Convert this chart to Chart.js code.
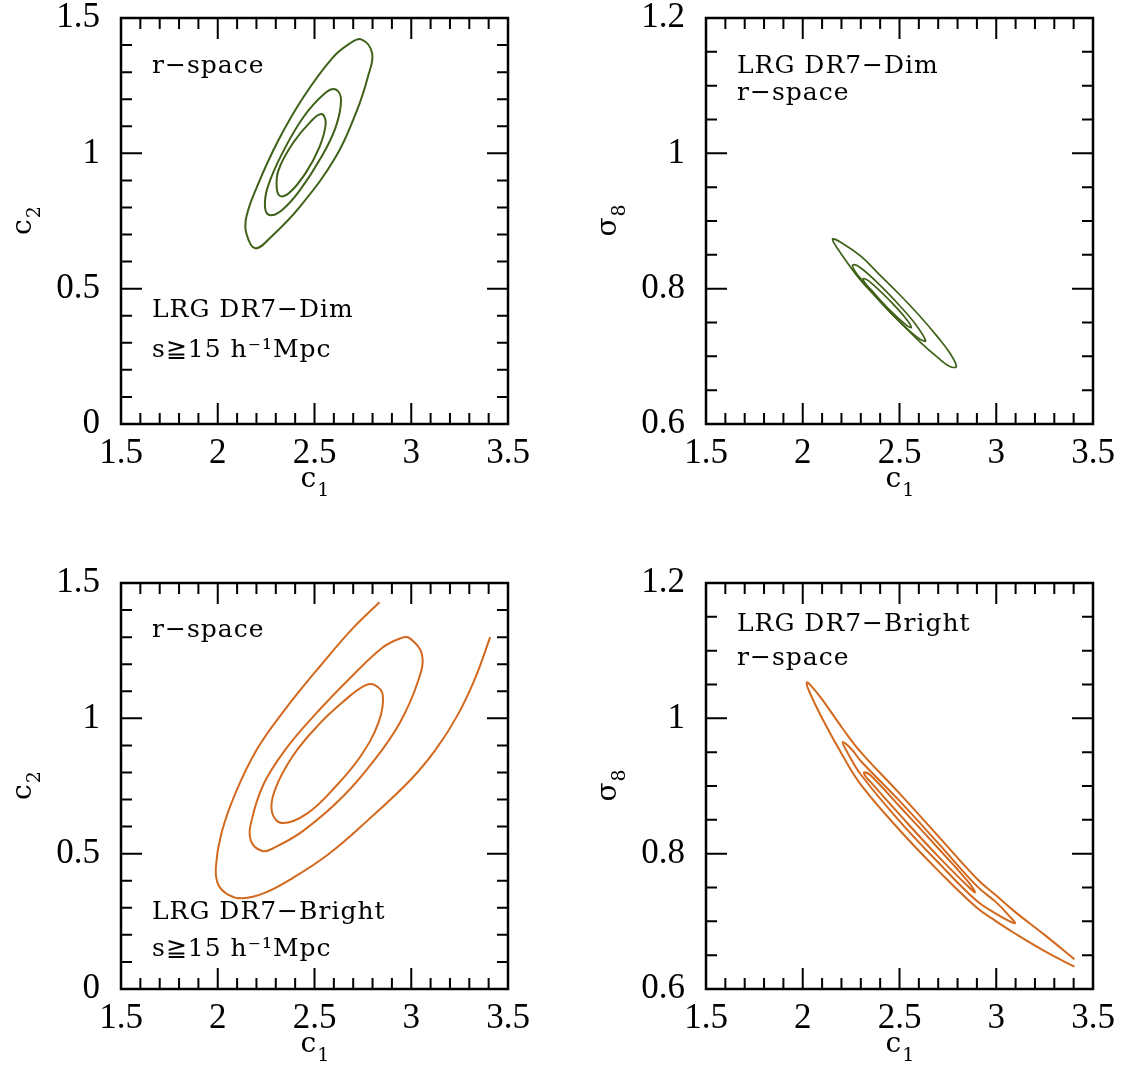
<!DOCTYPE html>
<html>
<head>
<meta charset="utf-8">
<title>LRG DR7 contours</title>
<script src="https://cdn.jsdelivr.net/npm/chart.js@4.4.1/dist/chart.umd.min.js"></script>
<style>
  body { margin: 0; background: #fff; width: 1121px; height: 1071px; position: relative; overflow: hidden; }
  .panel { position: absolute; width: 536px; height: 504px; }
</style>
</head>
<body>
<div class="panel" style="left:0;top:0"><canvas id="dimC2"></canvas></div>
<div class="panel" style="left:585px;top:0"><canvas id="dimS8"></canvas></div>
<div class="panel" style="left:0;top:565px"><canvas id="brightC2"></canvas></div>
<div class="panel" style="left:585px;top:565px"><canvas id="brightS8"></canvas></div>
<script>
// axis ticks
const c1Ticks = [1.5, 2, 2.5, 3, 3.5];
const c2Ticks = [0, 0.5, 1, 1.5];
const s8Ticks = [0.6, 0.8, 1.0, 1.2];

// DR7-Dim, c1 vs c2 (closed contours)
const dimC2Outer = [[2.610,0.987],[2.425,0.803],[2.277,0.692],[2.194,0.649],[2.148,0.704],[2.148,0.766],[2.203,0.877],[2.314,1.049],[2.444,1.209],[2.591,1.351],[2.683,1.406],[2.742,1.421],[2.798,1.369],[2.776,1.283],[2.720,1.160]];
const dimC2Mid = [[2.536,0.987],[2.425,0.864],[2.333,0.791],[2.268,0.772],[2.244,0.803],[2.259,0.877],[2.333,1.000],[2.444,1.135],[2.554,1.222],[2.610,1.236],[2.637,1.197],[2.610,1.098]];
const dimC2Inner = [[2.453,0.926],[2.370,0.854],[2.324,0.842],[2.305,0.871],[2.314,0.938],[2.388,1.037],[2.480,1.117],[2.536,1.145],[2.558,1.111],[2.526,1.024]];

// DR7-Dim, c1 vs sigma8 (closed)
const dimS8Outer = [[2.154,0.873],[2.20,0.868],[2.30,0.848],[2.40,0.8197],[2.50,0.7914],[2.60,0.761],[2.70,0.7276],[2.76,0.705],[2.794,0.685],[2.76,0.685],[2.70,0.6976],[2.60,0.723],[2.50,0.7514],[2.40,0.7817],[2.30,0.8121],[2.20,0.851]];
const dimS8Mid = [[2.258,0.835],[2.30,0.8305],[2.40,0.8048],[2.50,0.7751],[2.58,0.7484],[2.635,0.723],[2.60,0.7264],[2.50,0.7511],[2.40,0.7808],[2.30,0.8145],[2.27,0.826]];
const dimS8Inner = [[2.313,0.815],[2.35,0.8093],[2.45,0.7823],[2.53,0.757],[2.561,0.743],[2.54,0.745],[2.45,0.7683],[2.35,0.7993],[2.32,0.809]];

// DR7-Bright, c1 vs c2 (outer contour is open, cut by the grid)
const brightC2Outer = [[2.836,1.429],[2.701,1.335],[2.535,1.198],[2.350,1.035],[2.202,0.885],[2.091,0.723],[2.018,0.573],[1.990,0.448],[2.003,0.385],[2.055,0.348],[2.128,0.335],[2.239,0.354],[2.387,0.410],[2.572,0.498],[2.775,0.623],[2.997,0.773],[3.127,0.885],[3.238,1.010],[3.330,1.148],[3.408,1.300]];
const brightC2Mid = [[2.942,0.985],[2.812,0.848],[2.646,0.710],[2.443,0.585],[2.295,0.523],[2.230,0.510],[2.171,0.548],[2.175,0.623],[2.239,0.760],[2.350,0.885],[2.498,1.010],[2.683,1.148],[2.849,1.260],[2.942,1.295],[2.988,1.298],[3.056,1.235],[3.034,1.135]];
const brightC2Inner = [[2.738,0.860],[2.609,0.748],[2.461,0.648],[2.332,0.613],[2.280,0.654],[2.295,0.735],[2.387,0.860],[2.517,0.973],[2.646,1.060],[2.757,1.120],[2.812,1.123],[2.853,1.085],[2.831,0.985]];

// DR7-Bright, c1 vs sigma8 (outer contour open at the right edge)
const brightS8Outer = [[3.404,0.644],[3.25,0.680],[3.097,0.714],[3.0,0.738],[2.9,0.763],[2.7,0.826],[2.5,0.889],[2.3,0.950],[2.206,0.985],[2.1,1.028],[2.04,1.049],[2.021,1.053],[2.03,1.042],[2.1,1.000],[2.206,0.945],[2.3,0.902],[2.5,0.835],[2.7,0.775],[2.9,0.720],[3.0,0.700],[3.097,0.682],[3.25,0.656],[3.404,0.633]];
const brightS8Mid = [[2.206,0.965],[2.25,0.955],[2.3,0.937],[2.5,0.878],[2.7,0.8155],[2.9,0.752],[3.0,0.728],[3.07,0.707],[3.097,0.6975],[3.07,0.700],[3.0,0.711],[2.9,0.730],[2.7,0.787],[2.5,0.848],[2.3,0.917],[2.23,0.950]];
const brightS8Inner = [[2.317,0.920],[2.35,0.916],[2.5,0.870],[2.7,0.808],[2.85,0.760],[2.890,0.743],[2.86,0.750],[2.7,0.796],[2.5,0.858],[2.35,0.906],[2.325,0.914]];

const dimColor = '#3f6118';
const brightColor = '#d2691e';

// closed contours: let the line element wrap its spline round the loop
const loopPlugin = {
    id: 'closeLoops',
    afterDatasetUpdate(chart, args) {
        const ds = chart.data.datasets[args.index];
        const line = args.meta.dataset;
        if (ds.closed && line) {
            line._loop = true;
            line._fullLoop = true;
        }
    }
};

function drawTitle(ctx, main, sub, x, y, rotate) {
    ctx.save();
    ctx.translate(x, y);
    if (rotate) ctx.rotate(-Math.PI / 2);
    ctx.font = '28px "DejaVu Serif"';
    const wm = ctx.measureText(main).width;
    ctx.font = '19px "DejaVu Serif"';
    const ws = ctx.measureText(sub).width;
    const x0 = -(wm + ws) / 2;
    ctx.font = '28px "DejaVu Serif"';
    ctx.fillText(main, x0, 0);
    ctx.font = '19px "DejaVu Serif"';
    ctx.fillText(sub, x0 + wm + 1, 9);
    ctx.restore();
}

const framePlugin = {
    id: 'frame',
    afterDatasetsDraw(chart, args, o) {
        const ctx = chart.ctx;
        const a = chart.chartArea;
        ctx.save();
        ctx.strokeStyle = '#000';
        ctx.lineWidth = 2;
        ctx.beginPath();
        const mark = (scale, p, len) => {
            if (scale.isHorizontal()) {
                ctx.moveTo(p, a.bottom); ctx.lineTo(p, a.bottom - len);
                ctx.moveTo(p, a.top); ctx.lineTo(p, a.top + len);
            } else {
                ctx.moveTo(a.left, p); ctx.lineTo(a.left + len, p);
                ctx.moveTo(a.right, p); ctx.lineTo(a.right - len, p);
            }
        };
        [[chart.scales.x, o.minorX], [chart.scales.y, o.minorY]].forEach(([s, step]) => {
            const n = Math.round((s.max - s.min) / step);
            for (let k = 1; k < n; k++) mark(s, s.getPixelForValue(s.min + k * step), 11);
            s.ticks.forEach(t => mark(s, s.getPixelForValue(t.value), 21));
        });
        ctx.stroke();
        ctx.lineWidth = 2.5;
        ctx.strokeRect(a.left, a.top, a.width, a.height);

        ctx.fillStyle = '#000';
        ctx.textBaseline = 'alphabetic';
        ctx.font = '25px "DejaVu Serif"';
        ctx.letterSpacing = '1px';
        o.texts.forEach(t => ctx.fillText(t[0], a.left + 31, a.top + t[1]));
        ctx.letterSpacing = '0px';

        drawTitle(ctx, o.xTitle[0], o.xTitle[1], (a.left + a.right) / 2, a.bottom + 63, false);
        drawTitle(ctx, o.yTitle[0], o.yTitle[1], a.left - 90, (a.top + a.bottom) / 2, true);
        ctx.restore();
    }
};

function lineSet(c, color, width) {
    return {
        data: c.pts.map(p => ({ x: p[0], y: p[1] })),
        closed: c.closed,
        showLine: true,
        borderColor: color,
        borderWidth: width,
        pointRadius: 0,
        tension: 0.4,
        fill: false
    };
}

function panel(id, contours, color, width, yTicks, yTitle, minorY, texts) {
    const ctx = document.getElementById(id).getContext('2d');
    const tickFont = { family: '"Liberation Serif"', size: 35 };
    const fmt = v => String(+(+v).toFixed(2));
    return new Chart(ctx, {
        type: 'scatter',
        data: { datasets: contours.map(c => lineSet(c, color, width)) },
        options: {
            animation: false,
            responsive: true,
            maintainAspectRatio: false,
            layout: { padding: { left: 0, top: 18, right: 28, bottom: 0 } },
            plugins: {
                legend: { display: false },
                tooltip: { enabled: false },
                frame: { minorX: 0.1, minorY: minorY, texts: texts, xTitle: ['c', '1'], yTitle: yTitle }
            },
            scales: {
                x: {
                    type: 'linear',
                    min: c1Ticks[0],
                    max: c1Ticks[c1Ticks.length - 1],
                    afterBuildTicks: s => { s.ticks = c1Ticks.map(v => ({ value: v })); },
                    afterFit: s => { s.height = 80; s.paddingLeft = 0; s.paddingRight = 0; },
                    grid: { display: false, drawTicks: false },
                    border: { display: false },
                    ticks: { color: '#000', font: tickFont, padding: 9, maxRotation: 0, autoSkip: false, callback: fmt }
                },
                y: {
                    type: 'linear',
                    min: yTicks[0],
                    max: yTicks[yTicks.length - 1],
                    afterBuildTicks: s => { s.ticks = yTicks.map(v => ({ value: v })); },
                    afterFit: s => { s.width = 121; s.paddingTop = 0; s.paddingBottom = 0; },
                    grid: { display: false, drawTicks: false },
                    border: { display: false },
                    ticks: { color: '#000', font: tickFont, padding: 21, autoSkip: false, callback: fmt }
                }
            }
        },
        plugins: [loopPlugin, framePlugin]
    });
}

panel('dimC2', [
        { pts: dimC2Outer, closed: true }, { pts: dimC2Mid, closed: true }, { pts: dimC2Inner, closed: true }
    ], dimColor, 2, c2Ticks, ['c', '2'], 0.1,
    [['r−space', 55], ['LRG DR7−Dim', 299], ['s≧15 h⁻¹Mpc', 339]]);
panel('dimS8', [
        { pts: dimS8Outer, closed: true }, { pts: dimS8Mid, closed: true }, { pts: dimS8Inner, closed: true }
    ], dimColor, 1.7, s8Ticks, ['σ', '8'], 0.05,
    [['LRG DR7−Dim', 55], ['r−space', 82]]);
panel('brightC2', [
        { pts: brightC2Outer, closed: false }, { pts: brightC2Mid, closed: true }, { pts: brightC2Inner, closed: true }
    ], brightColor, 2, c2Ticks, ['c', '2'], 0.1,
    [['r−space', 54], ['LRG DR7−Bright', 336], ['s≧15 h⁻¹Mpc', 373]]);
panel('brightS8', [
        { pts: brightS8Outer, closed: false }, { pts: brightS8Mid, closed: true }, { pts: brightS8Inner, closed: true }
    ], brightColor, 2, s8Ticks, ['σ', '8'], 0.05,
    [['LRG DR7−Bright', 48], ['r−space', 82]]);
</script>
</body>
</html>
